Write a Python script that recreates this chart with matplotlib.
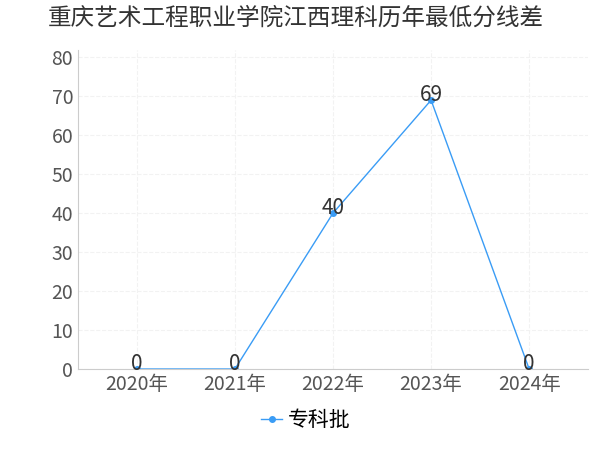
import matplotlib
matplotlib.use('Agg')
import matplotlib.pyplot as plt

plt.rcParams['font.family'] = ['Noto Sans CJK SC', 'DejaVu Sans']

years = ['2020年', '2021年', '2022年', '2023年', '2024年']
values = [0, 0, 40, 69, 0]
series_name = '专科批'
title = '重庆艺术工程职业学院江西理科历年最低分线差'

fig = plt.figure(figsize=(6, 4.5), dpi=100)
ax = fig.add_axes([0.13, 0.18, 0.85, 0.71])
x = range(len(years))
ax.plot(x, values, color='#3a9cf5', linewidth=1, marker='o', markersize=4, label=series_name)
for xi, v in zip(x, values):
    ax.text(xi, v - 1.5, str(v), ha='center', va='bottom', fontsize=15, color='#333333')

ax.set_xlim(-0.6, 4.6)
ax.set_ylim(0, 82)
ax.set_yticks(range(0, 81, 10))
ax.set_xticks(list(x))
ax.set_xticklabels(years)
ax.tick_params(axis='both', labelsize=14, colors='#555555', length=0)
ax.grid(True, color='#f2f2f2', linestyle='--', linewidth=0.8)
for s in ['top', 'right']:
    ax.spines[s].set_visible(False)
ax.spines['left'].set_color('#cccccc')
ax.spines['bottom'].set_color('#cccccc')

fig.text(0.08, 0.96, title, fontsize=17, color='#333333', va='center')
fig.legend(loc='lower center', bbox_to_anchor=(0.51, 0.0), frameon=False, fontsize=15,
           handlelength=1, handletextpad=0.3)

plt.savefig('out.png', dpi=100)
